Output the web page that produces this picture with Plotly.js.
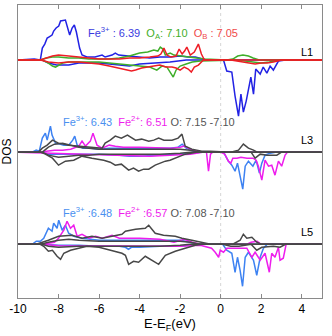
<!DOCTYPE html>
<html>
<head>
<meta charset="utf-8">
<script src="https://cdn.plot.ly/plotly-3.0.1.min.js"></script>
<style>
  html, body { margin: 0; padding: 0; background: #fff; }
  #plot { width: 332px; height: 336px; }
</style>
</head>
<body>
<div id="plot"></div>
<script>
// vertical offset of each layer (arb. DOS units)
const layerShift = { L1: 184, L3: 92, L5: 0 };

// ---- L1 ----
const l1FeUpE = [-10, -9.2, -8.9, -8.8, -8.68, -8.56, -8.48, -8.32, -8.24, -8.12, -7.99, -7.9, -7.66, -7.58, -7.45, -7.33, -7.22, -7.12, -7.03, -6.96, -6.84, -6.6, -6.2, -5.85, -5.7, -5.36, -5.2, -5.03, -4.55, -4.0, -3.5, -3.0, -2.5, -2.0, -1.6, -1.25, -0.9, -0.7, 5];
const l1FeUp = [0, 1, 0, 12, 16, 22, 23, 25, 29, 32, 34, 39, 40, 35, 25, 32, 35, 28, 20, 12, 5, 3, 3, 5, 3, 5, 7, 5, 4, 3, 2, 3, 3, 4, 3, 3, 1, 0, 0];
const l1FeDnE = [-10, -8.8, -8.5, -8.1, -7.5, -7.0, -6.0, -5.0, -4.5, -4.0, -3.3, -2.5, -1.7, 0.0, 0.14, 0.3, 0.55, 0.71, 0.88, 1.0, 1.12, 1.26, 1.37, 1.49, 1.62, 1.73, 1.95, 2.1, 2.28, 2.44, 2.6, 2.85, 3.2, 5];
const l1FeDn = [0, 0, -3, -5, -5, -3, -3, -5, -6, -4, -3, -2, 0, 0, 0, -11, -12, -36, -56, -34, -52, -41, -31, -17, -34, -9, -14, -7, -13, -6, -10, -1, 0, 0];

const l1OaUpE = [-10, -8.9, -8.6, -8.3, -8.0, -7.5, -7.0, -6.5, -6.0, -5.5, -5.0, -4.5, -4.0, -3.6, -3.3, -3.1, -2.98, -2.85, -2.73, -2.6, -2.49, -2.3, -2.0, -1.6, -1.2, -0.8, 0.3, 0.6, 0.84, 1.1, 1.37, 1.6, 1.9, 5];
const l1OaUp = [0, 0, 2, 3, 3, 2, 2, 1, 1, 1, 2, 4, 7, 8, 10, 9, 13, 11, 5, 6, 7, 5, 4, 3, 2, 1, 0, 1, 4, 5, 4, 2, 0, 0];
const l1OaDnE = [-10, -8.8, -8.5, -8.3, -8.15, -8.0, -7.8, -7.5, -7.0, -6.5, -6.0, -5.5, -5.0, -4.5, -4.0, -3.5, -3.15, -2.9, -2.65, -2.5, -2.34, -2.2, -2.0, -1.7, -1.4, -1.0, 0.8, 1.2, 1.6, 2.0, 2.4, 2.7, 2.9, 5];
const l1OaDn = [0, 0, -3, -6, -7, -5, -3, -2, -2, -2, -2, -3, -4, -5, -6, -7, -10, -6, -7, -12, -17, -10, -6, -4, -2, -1, 0, -1, -2, -3, -2, -1, 0, 0];

const l1ObUpE = [-10, -8.9, -8.6, -8.3, -8.0, -7.5, -7.0, -6.5, -6.0, -5.5, -5.0, -4.5, -4.0, -3.5, -3.1, -2.95, -2.8, -2.65, -2.45, -2.2, -2.05, -1.9, -1.78, -1.67, -1.5, -1.3, -1.1, -0.95, -0.8, 5];
const l1ObUp = [0, 0, 2, 4, 5, 4, 3, 2, 1, 1, 1, 2, 2, 3, 4, 6, 12, 5, 3, 4, 11, 6, 9, 13, 5, 8, 16, 6, 0, 0];
const l1ObDnE = [-10, -8.9, -8.5, -8.0, -7.5, -7.0, -6.5, -6.0, -5.5, -5.0, -4.6, -4.4, -4.2, -3.9, -3.6, -3.3, -3.0, -2.7, -2.4, -2.2, -2.0, -1.8, -1.6, -1.45, -1.3, -1.1, -0.85, 0.5, 0.8, 1.2, 1.5, 1.7, 2.0, 2.3, 2.6, 2.8, 3.0, 5];
const l1ObDn = [0, 0, -2, -3, -2, -2, -3, -4, -6, -8, -10, -11, -10, -8, -7, -6, -5, -7, -7, -8, -10, -7, -9, -12, -7, -5, 0, 0, -1, -2, -3, -4, -3, -3, -2, -1, 0, 0];

// ---- L3 ----
const l3FeUpE = [-10, -9.3, -9.1, -8.95, -8.8, -8.65, -8.56, -8.48, -8.4, -8.32, -8.15, -7.95, -7.74, -7.5, -7.3, -7.2, -7.08, -6.8, -6.4, -6.0, -5.5, -5.0, -4.5, -4.0, -3.5, -3.0, -2.5, -2.1, -1.9, -1.7, -1.5, -1.2, 5];
const l3FeUp = [0, 0, 2, 1, 14, 19, 12, 20, 26, 17, 9, 8, 7, 7, 12, 16, 7, 4, 4, 3, 4, 4, 4, 4, 4, 4, 4, 5, 8, 4, 2, 0, 0];
const l3FeDnE = [-10, -8.8, -8.5, -8.0, -7.0, -6.0, -5.0, -4.5, -4.0, -3.0, -2.0, -1.5, -1.0, 0.0, 0.14, 0.38, 0.55, 0.71, 0.83, 0.96, 1.09, 1.21, 1.37, 1.59, 1.75, 1.91, 2.03, 2.19, 2.44, 2.7, 5];
const l3FeDn = [0, 0, -2, -2, -2, -2, -3, -4, -4, -3, -2, -1, 0, 0, 0, -9, -13, -19, -11, -24, -37, -14, -9, -14, -8, -21, -11, -3, -1, 0, 0];

const l3Fe2UpE = [-10, -8.9, -8.6, -8.2, -7.8, -7.4, -7.0, -6.84, -6.67, -6.5, -6.43, -6.3, -6.1, -5.85, -5.5, -5.2, -4.8, -4.0, -3.0, -2.4, -2.0, -1.8, -1.5, -1.2, -1.0, 5];
const l3Fe2Up = [0, 0, 1, 2, 2, 3, 6, 11, 6, 9, 11, 19, 7, 4, 7, 6, 5, 5, 4, 4, 5, 6, 3, 1, 0, 0];
const l3Fe2DnE = [-10, -8.5, -7.5, -6.5, -5.5, -4.5, -3.5, -2.5, -1.5, -0.9, -0.7, -0.6, -0.5, -0.4, 0.0, 0.2, 0.38, 0.5, 0.6, 0.8, 1.0, 1.3, 1.6, 1.75, 1.86, 2.03, 2.19, 2.36, 2.52, 2.68, 2.85, 3.01, 3.18, 3.3, 5];
const l3Fe2Dn = [0, -1, -2, -2, -3, -4, -4, -3, -2, 0, 0, -19, -2, 0, 0, -2, -9, -11, -6, -6, -5, -6, -6, -8, -14, -28, -8, -14, -13, -23, -9, -14, -3, 0, 0];

const l3O1UpE = [-10, -9.0, -8.8, -8.56, -8.3, -8.0, -7.5, -7.0, -6.5, -5.85, -5.7, -5.45, -5.2, -4.9, -4.6, -4.2, -3.9, -3.55, -3.3, -3.06, -2.8, -2.4, -2.1, -1.91, -1.75, -1.42, -0.93, -0.5, 0.5, 0.88, 1.12, 1.37, 1.62, 1.8, 5];
const l3O1Up = [0, 0, 4, 7, 12, 9, 7, 6, 5, 4, 9, 12, 16, 14, 17, 12, 13, 11, 12, 14, 12, 12, 14, 18, 6, 3, 1, 1, 0, 2, 8, 4, 2, 0, 0];
const l3O1DnE = [-10, -8.9, -8.65, -8.3, -8.0, -7.66, -7.25, -6.84, -6.35, -5.77, -5.45, -5.2, -4.9, -4.54, -4.3, -4.05, -3.8, -3.55, -3.23, -2.98, -2.73, -2.5, -2.24, -1.75, -1.2, 1.5, 1.7, 1.95, 2.28, 2.77, 3.0, 5];
const l3O1Dn = [0, 0, -2, -6, -13, -9, -8, -4, -6, -8, -10, -13, -12, -18, -16, -19, -17, -17, -13, -11, -9, -8, -6, -2, 0, 0, -6, -2, -3, -3, 0, 0];
const l3O2UpE = [-10, -8.8, -8.5, -8.2, -7.8, -7.4, -7.0, -6.5, -6.0, -5.0, -4.0, -3.0, -2.0, -1.5, -1.0, 5];
const l3O2Up = [0, 0, 5, 8, 9, 7, 5, 4, 3, 3, 3, 3, 3, 2, 0, 0];
const l3O2DnE = [-10, -8.8, -8.5, -8.0, -7.5, -7.0, -6.5, -6.0, -5.0, -4.0, -3.0, -2.0, -1.5, 5];
const l3O2Dn = [0, 0, -3, -5, -4, -3, -3, -2, -2, -2, -2, -1, 0, 0];

// ---- L5 ----
const l5FeUpE = [-10, -9.3, -9.1, -8.9, -8.73, -8.5, -8.32, -8.24, -8.07, -7.99, -7.82, -7.66, -7.5, -7.25, -6.84, -6.5, -6.0, -5.5, -5.0, -4.5, -4.0, -3.0, -2.0, -1.5, -1.2, 5];
const l5FeUp = [0, 0, 3, 3, 6, 16, 13, 21, 16, 24, 14, 19, 11, 8, 6, 5, 4, 4, 4, 4, 4, 4, 4, 2, 0, 0];
const l5FeDnE = [-10, -8.8, -8.0, -7.0, -6.0, -5.0, -4.7, -4.55, -4.4, -4.0, -3.0, -2.0, -1.2, 0.1, 0.3, 0.55, 0.71, 0.83, 0.96, 1.08, 1.21, 1.37, 1.62, 1.78, 1.95, 2.11, 2.3, 5];
const l5FeDn = [0, 0, -1, -1, -2, -2, -3, -5, -3, -3, -2, -2, 0, 0, -6, -9, -28, -13, -26, -42, -13, -8, -16, -31, -13, -4, 0, 0];

const l5Fe2UpE = [-10, -8.9, -8.5, -8.2, -8.0, -7.74, -7.58, -7.41, -7.25, -7.08, -6.84, -6.5, -6.18, -5.85, -5.36, -5.0, -4.0, -3.0, -2.3, -1.8, -1.4, -1.0, 1.3, 1.5, 1.8, 2.0, 5];
const l5Fe2Up = [0, 0, 1, 2, 6, 14, 23, 16, 19, 8, 10, 6, 8, 6, 9, 6, 6, 5, 2, 5, 2, 0, 0, 2, 3, 0, 0];
const l5Fe2DnE = [-10, -8.8, -8.0, -6.0, -5.0, -4.0, -3.0, -2.0, -1.0, -0.68, -0.45, -0.27, -0.1, -0.02, 0.14, 0.3, 0.63, 1.29, 1.54, 1.7, 1.95, 2.19, 2.4, 2.52, 2.68, 2.85, 2.93, 3.09, 3.23, 5];
const l5Fe2Dn = [0, 0, -1.5, -1.5, -1.5, -2, -2, -2, -1, -3, -4, -8, -13, -6, -8, -4, -4, -4, -13, -8, -16, -9, -28, -9, -13, -3, -16, -14, 0, 0];

const l5O1UpE = [-10, -9.1, -8.5, -8.0, -7.33, -6.84, -6.35, -5.85, -5.36, -4.87, -4.7, -4.2, -3.72, -3.55, -3.23, -2.82, -2.24, -1.91, -1.42, -0.93, -0.5, 0.6, 0.96, 1.12, 1.29, 1.54, 1.78, 2.0, 5];
const l5O1Up = [0, 0, 4, 8, 9, 6, 8, 6, 8, 10, 13, 15, 16, 19, 11, 9, 8, 6, 4, 2, 0, 0, 4, 10, 6, 7, 2, 0, 0];
const l5O1DnE = [-10, -8.9, -8.73, -8.5, -8.3, -8.07, -7.9, -7.74, -7.41, -7.0, -6.6, -6.0, -5.36, -4.87, -4.7, -4.54, -4.3, -4.05, -3.72, -3.39, -3.06, -2.73, -2.24, -1.75, -1.26, -0.9, 0.1, 0.5, 0.9, 1.5, 1.78, 2.03, 2.6, 2.93, 3.2, 5];
const l5O1Dn = [0, 0, -2, -7, -6, -12, -15, -9, -6, -4, -2, -3, -6, -9, -11, -20, -17, -18, -12, -16, -20, -11, -7, -4, -1, 0, 0, -2, -2, 0, -6, -3, -2, -3, 0, 0];
const l5O2UpE = [-10, -8.9, -8.5, -8.0, -7.5, -7.0, -6.0, -5.0, -4.0, -3.0, -2.0, -1.5, -1.0, 5];
const l5O2Up = [0, 0, 2, 4, 5, 4, 3, 3, 3, 3, 3, 2, 0, 0];
const l5O2DnE = [-10, -8.8, -8.5, -8.0, -7.0, -6.0, -5.0, -4.0, -3.0, -2.0, -1.5, 5];
const l5O2Dn = [0, 0, -2, -3, -2, -2, -2, -2, -2, -1, 0, 0];

const xTicks = [-10, -8, -6, -4, -2, 0, 2, 4];

const colors = {
  fe3L1: "#2222e4",
  oA: "#3fae2a",
  oB: "#ee1d25",
  fe3: "#3d82f2",
  fe2: "#ee1ded",
  o: "#474747",
};

function curve(energy, dos, shift, color) {
  return {
    x: energy,
    y: dos.map((v) => v + shift),
    mode: "lines",
    line: { color: color, width: 1.5 },
    hoverinfo: "skip",
  };
}

const traces = [
  curve(l1FeUpE, l1FeUp, layerShift.L1, colors.fe3L1),
  curve(l1FeDnE, l1FeDn, layerShift.L1, colors.fe3L1),
  curve(l1OaUpE, l1OaUp, layerShift.L1, colors.oA),
  curve(l1OaDnE, l1OaDn, layerShift.L1, colors.oA),
  curve(l1ObUpE, l1ObUp, layerShift.L1, colors.oB),
  curve(l1ObDnE, l1ObDn, layerShift.L1, colors.oB),

  curve(l3FeUpE, l3FeUp, layerShift.L3, colors.fe3),
  curve(l3FeDnE, l3FeDn, layerShift.L3, colors.fe3),
  curve(l3Fe2UpE, l3Fe2Up, layerShift.L3, colors.fe2),
  curve(l3Fe2DnE, l3Fe2Dn, layerShift.L3, colors.fe2),
  curve(l3O2UpE, l3O2Up, layerShift.L3, colors.o),
  curve(l3O2DnE, l3O2Dn, layerShift.L3, colors.o),
  curve(l3O1UpE, l3O1Up, layerShift.L3, colors.o),
  curve(l3O1DnE, l3O1Dn, layerShift.L3, colors.o),

  curve(l5FeUpE, l5FeUp, layerShift.L5, colors.fe3),
  curve(l5FeDnE, l5FeDn, layerShift.L5, colors.fe3),
  curve(l5Fe2UpE, l5Fe2Up, layerShift.L5, colors.fe2),
  curve(l5Fe2DnE, l5Fe2Dn, layerShift.L5, colors.fe2),
  curve(l5O2UpE, l5O2Up, layerShift.L5, colors.o),
  curve(l5O2DnE, l5O2Dn, layerShift.L5, colors.o),
  curve(l5O1UpE, l5O1Up, layerShift.L5, colors.o),
  curve(l5O1DnE, l5O1Dn, layerShift.L5, colors.o),
];

const font = "Liberation Sans, Arial, sans-serif";

function label(text, x, y) {
  return {
    text: text, x: x, y: y, xref: "x", yref: "y",
    xanchor: "left", yanchor: "middle", showarrow: false,
    font: { family: font, size: 11, color: "#000" },
  };
}

const annotations = [
  label("<span style='color:#3a3ae0'>Fe<sup>3+</sup> : 6.39</span>  <span style='color:#3fae2a'>O<sub>A</sub>: 7.10</span>  <span style='color:#f04a4a'>O<sub>B</sub> : 7.05</span>", -6.63, layerShift.L1 + 27),
  label("<span style='color:#4a90f0'>Fe<sup>3+</sup>: 6.43</span>  <span style='color:#ee1ded'>Fe<sup>2+</sup>: 6.51</span> <span style='color:#555'>O: 7.15 -7.10</span>", -7.86, layerShift.L3 + 31),
  label("<span style='color:#4a90f0'>Fe<sup>3+</sup> :6.48</span>  <span style='color:#ee1ded'>Fe<sup>2+</sup> :6.57</span> <span style='color:#555'>O: 7.08 -7.10</span>", -7.86, layerShift.L5 + 32),
  label("L1", 3.85, layerShift.L1 + 8),
  label("L3", 3.85, layerShift.L3 + 12),
  label("L5", 3.85, layerShift.L5 + 12),
];

const layout = {
  width: 332,
  height: 336,
  margin: { l: 18, r: 10, t: 5, b: 38 },
  paper_bgcolor: "#fff",
  plot_bgcolor: "#fff",
  showlegend: false,
  font: { family: font, color: "#000" },
  xaxis: {
    range: [-10, 5],
    tickvals: xTicks,
    ticktext: xTicks.map(String),
    ticks: "inside",
    ticklen: 4,
    tickcolor: "#8a8a8a",
    showline: true,
    linecolor: "#8a8a8a",
    linewidth: 1,
    mirror: "ticks",
    showgrid: false,
    zeroline: false,
    tickfont: { family: font, size: 12, color: "#000" },
    title: { text: "E-E<sub>F</sub>(eV)", font: { family: font, size: 13, color: "#000" }, standoff: 2 },
  },
  yaxis: {
    range: [-53.7, 239],
    showticklabels: false,
    ticks: "",
    showline: true,
    linecolor: "#8a8a8a",
    linewidth: 1,
    mirror: true,
    showgrid: false,
    zeroline: false,
    title: { text: "DOS", font: { family: font, size: 12, color: "#000" }, standoff: 4 },
  },
  shapes: [
    {
      type: "line", xref: "x", yref: "paper", x0: 0, x1: 0, y0: 0, y1: 1,
      line: { color: "#d6d6d6", width: 1, dash: "dot" }, layer: "below",
    },
  ],
  annotations: annotations,
};

Plotly.newPlot("plot", traces, layout, { displayModeBar: false, staticPlot: true });
</script>
</body>
</html>
